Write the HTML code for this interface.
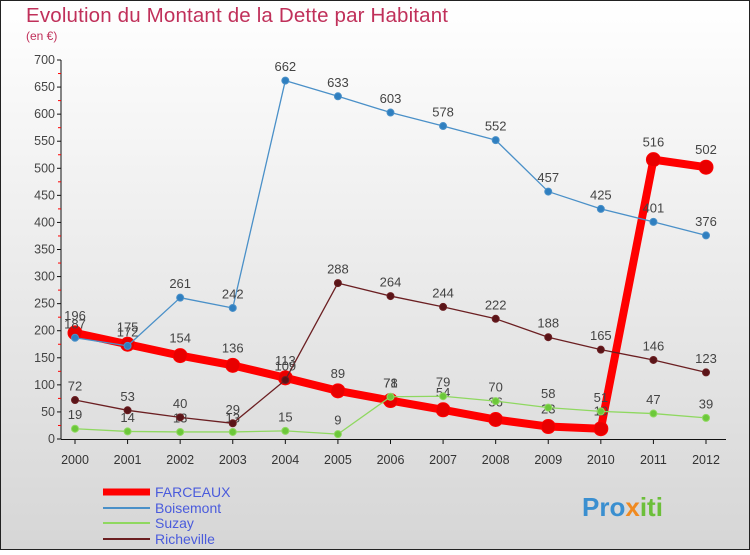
<!DOCTYPE html>
<html><head><meta charset="utf-8"><style>
body{margin:0;width:750px;height:550px;overflow:hidden;font-family:"Liberation Sans",sans-serif}
svg text{font-family:"Liberation Sans",sans-serif}
</style></head><body>
<svg width="750" height="550" xmlns="http://www.w3.org/2000/svg" id="chart">
<defs><linearGradient id="bg" x1="0" y1="0" x2="0" y2="1"><stop offset="0" stop-color="#ffffff"/><stop offset="1" stop-color="#d6d6d6"/></linearGradient></defs>
<rect x="0.5" y="0.5" width="749" height="549" fill="url(#bg)" stroke="#222"/>
<text x="26" y="22" font-size="20.5" fill="#c0305a" textLength="422">Evolution du Montant de la Dette par Habitant</text>
<text x="26" y="40" font-size="12" fill="#c0305a">(en €)</text>
<g id="axes"></g><g id="series"></g>
<g>
<line x1="103" y1="492" x2="150" y2="492" stroke="#f00" stroke-width="7"/>
<text x="155" y="497" font-size="14" fill="#4a5bdc">FARCEAUX</text>
<line x1="103" y1="508" x2="150" y2="508" stroke="#4a90c8" stroke-width="2"/>
<text x="155" y="513" font-size="14" fill="#4a5bdc">Boisemont</text>
<line x1="103" y1="523" x2="150" y2="523" stroke="#8fd860" stroke-width="2"/>
<text x="155" y="528" font-size="14" fill="#4a5bdc">Suzay</text>
<line x1="103" y1="539" x2="150" y2="539" stroke="#6b1f22" stroke-width="2"/>
<text x="155" y="544" font-size="14" fill="#4a5bdc">Richeville</text>
</g>
<text x="582" y="516" font-size="26" font-weight="bold" fill="#3a8fd0">Pro<tspan fill="#f08a20">x</tspan><tspan fill="#6cbf3a">iti</tspan></text>
</svg>
<script>
const years=["2000","2001","2002","2003","2004","2005","2006","2007","2008","2009","2010","2011","2012"];
const yTicks=[0,50,100,150,200,250,300,350,400,450,500,550,600,650,700];
const farceaux=[196,175,154,136,113,89,71,54,36,23,19,516,502];
const boisemont=[187,172,261,242,662,633,603,578,552,457,425,401,376];
const suzay=[19,14,13,13,15,9,78,79,70,58,51,47,39];
const richeville=[72,53,40,29,109,288,264,244,222,188,165,146,123];
const NS="http://www.w3.org/2000/svg";
const x0=75,x1=706,yb=439,yt=60;
const X=i=>x0+(x1-x0)*i/(years.length-1);
const Y=v=>yb-(yb-yt)*v/700;
function mk(t,a,p){const e=document.createElementNS(NS,t);for(const k in a)e.setAttribute(k,a[k]);p.appendChild(e);return e;}
const ax=document.getElementById('axes');
const yl=mk('line',{x1:61,y1:yt,x2:61,y2:yb,stroke:'#111'},ax);


const xl=mk('line',{x1:61,y1:yb+0.5,x2:x1+20,y2:yb+0.5,stroke:'#111'},ax);


yTicks.forEach(v=>{
  mk('line',{x1:57,y1:Y(v),x2:61,y2:Y(v),stroke:'#111'},ax);
  const t=mk('text',{x:55,y:Y(v)+4,'font-size':12.5,'text-anchor':'end',fill:'#444'},ax);
  t.textContent=v;
  
  
  if(v<700)mk('line',{x1:58,y1:Y(v+25),x2:61,y2:Y(v+25),stroke:'#f00'},ax);
});
years.forEach((y,i)=>{
  mk('line',{x1:X(i),y1:yb,x2:X(i),y2:yb+5,stroke:'#111'},ax);
  const t=mk('text',{x:X(i),y:yb+25,'font-size':12.5,'text-anchor':'middle',fill:'#333'},ax);
  t.textContent=y;
  
  
});
const sg=document.getElementById('series');
function draw(name,vals,color,w,r,pc){
  const g=mk('g',{},sg);
  
  
  mk('polyline',{points:vals.map((v,i)=>X(i)+','+Y(v)).join(' '),fill:'none',stroke:color,'stroke-width':w,'stroke-linejoin':'round'},g);
  vals.forEach((v,i)=>{
    const c=mk('circle',{cx:X(i),cy:Y(v),r:r,fill:pc,stroke:color,'stroke-width':1},g);
    
    
    const t=mk('text',{x:X(i),y:Y(v)-r-6,'font-size':13,'text-anchor':'middle',fill:'#444'},g);
    t.textContent=v;
    
    
  });
}
draw('farceaux',farceaux,'#f00',8,7,'#e80000');
draw('boisemont',boisemont,'#4a90c8',1.3,3.5,'#2f7fc0');
draw('suzay',suzay,'#8fd860',1.3,3.5,'#6cc83a');
draw('richeville',richeville,'#6b1f22',1.3,3.5,'#5a1418');
</script>
</body></html>
